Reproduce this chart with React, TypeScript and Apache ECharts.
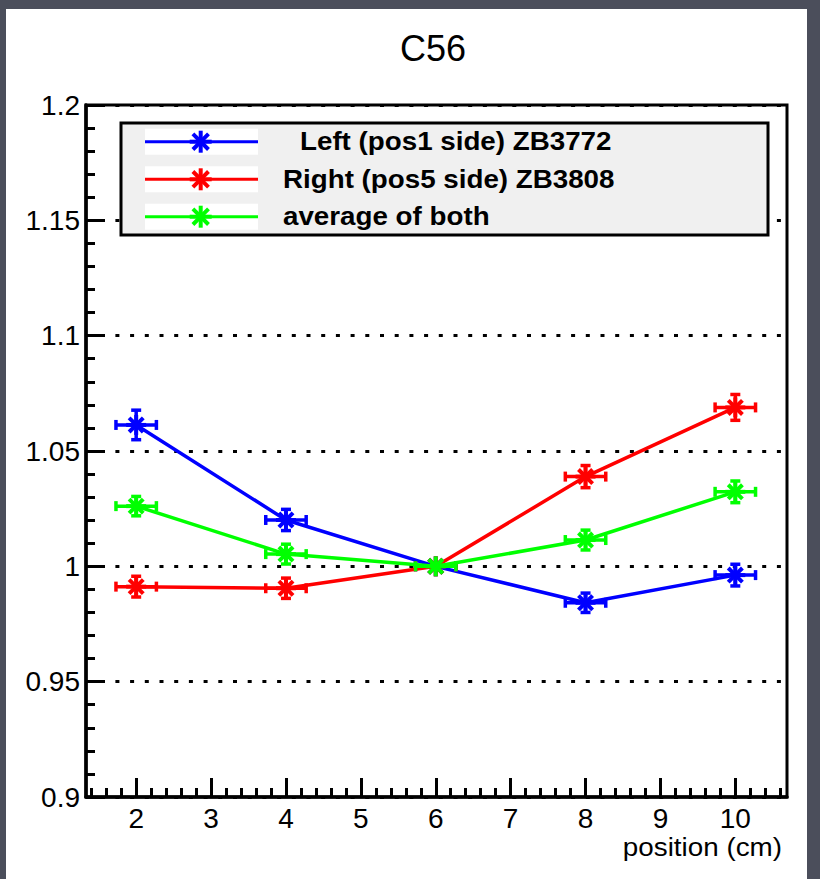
import React, { useEffect, useRef } from "react";
import * as echarts from "echarts";

// ---- data ----
const positions = [2, 4, 6, 8, 10];
const xErrors = [0.27, 0.27, 0.27, 0.27, 0.27];

const leftValues = [1.0613, 1.0201, 1.0, 0.9842, 0.9962];
const leftErrors = [0.0064, 0.0046, 0, 0.0042, 0.0047];

const rightValues = [0.9912, 0.9905, 1.0, 1.0389, 1.0689];
const rightErrors = [0.0045, 0.0044, 0, 0.0048, 0.0056];

const avgValues = [1.0261, 1.0053, 1.0, 1.0114, 1.0323];
const avgErrors = [0.0042, 0.0043, 0, 0.0043, 0.0047];

const xTickValues = [2, 3, 4, 5, 6, 7, 8, 9, 10];
const seriesNames = [
  "Left (pos1 side) ZB3772",
  "Right (pos5 side) ZB3808",
  "average of both",
];
const seriesColors = ["#0000ff", "#ff0000", "#00ff00"];
const xAxisTitle = "position (cm)";
const chartTitle = "C56";

const X_MIN = 1.33;
const X_MAX = 10.69;

// minor ticks every 0.2 between majors
const xMinorTicks: number[] = [];
for (let k = 7; k <= 53; k++) {
  const v = Math.round(k * 0.2 * 100) / 100;
  if (Math.abs(v - Math.round(v)) > 1e-6) xMinorTicks.push(v);
}

const FONT = "Liberation Sans, Arial, Helvetica, sans-serif";
const MARK_W = 4;

function starLines(cx: number, cy: number, color: string, R = 10, z?: number) {
  const d = R * 0.7071;
  const st = { stroke: color, lineWidth: MARK_W };
  const extra: any = z !== undefined ? { z } : {};
  return [
    { type: "line", ...extra, shape: { x1: cx - R, y1: cy, x2: cx + R, y2: cy }, style: st },
    { type: "line", ...extra, shape: { x1: cx, y1: cy - R, x2: cx, y2: cy + R }, style: st },
    { type: "line", ...extra, shape: { x1: cx - d, y1: cy - d, x2: cx + d, y2: cy + d }, style: st },
    { type: "line", ...extra, shape: { x1: cx - d, y1: cy + d, x2: cx + d, y2: cy - d }, style: st },
  ];
}

function makeRenderItem(color: string) {
  return (params: any, api: any) => {
    const x = api.value(0);
    const y = api.value(1);
    const ex = api.value(2);
    const ey = api.value(3);
    const c = api.coord([x, y]);
    const l = api.coord([x - ex, y]);
    const r = api.coord([x + ex, y]);
    const st = { stroke: color, lineWidth: 3.5 };
    const children: any[] = [
      { type: "line", shape: { x1: l[0], y1: c[1], x2: r[0], y2: c[1] }, style: st },
      { type: "line", shape: { x1: l[0], y1: c[1] - 5, x2: l[0], y2: c[1] + 5 }, style: st },
      { type: "line", shape: { x1: r[0], y1: c[1] - 5, x2: r[0], y2: c[1] + 5 }, style: st },
    ];
    if (ey > 0) {
      const t = api.coord([x, y + ey]);
      const b = api.coord([x, y - ey]);
      children.push(
        { type: "line", shape: { x1: c[0], y1: t[1], x2: c[0], y2: b[1] }, style: st },
        { type: "line", shape: { x1: c[0] - 5, y1: t[1], x2: c[0] + 5, y2: t[1] }, style: st },
        { type: "line", shape: { x1: c[0] - 5, y1: b[1], x2: c[0] + 5, y2: b[1] }, style: st }
      );
    }
    children.push(...starLines(c[0], c[1], color));
    return { type: "group", children };
  };
}

export default function App() {
  const ref = useRef<HTMLDivElement>(null);

  useEffect(() => {
    if (!ref.current) return;
    const chart = echarts.init(ref.current, undefined, { renderer: "svg" });

    const groups = [
      { vals: leftValues, errs: leftErrors },
      { vals: rightValues, errs: rightErrors },
      { vals: avgValues, errs: avgErrors },
    ];

    const series: any[] = [];
    groups.forEach((g, i) => {
      series.push({
        type: "line",
        name: seriesNames[i],
        data: positions.map((x, j) => [x, g.vals[j]]),
        symbol: "none",
        lineStyle: { color: seriesColors[i], width: 3.5 },
        z: 3 + i * 2,
        silent: true,
      });
      series.push({
        type: "custom",
        name: seriesNames[i] + " errors",
        data: positions.map((x, j) => [x, g.vals[j], xErrors[j], g.errs[j]]),
        encode: { x: 0, y: 1 },
        renderItem: makeRenderItem(seriesColors[i]),
        z: 4 + i * 2,
        silent: true,
      });
    });

    // legend drawn as graphic
    const Z = 100;
    const legendRows = [141.7, 179.3, 216.7];
    const legendTextX = [300, 283, 283];
    const legendElements: any[] = [
      {
        type: "rect",
        z: Z,
        shape: { x: 121, y: 123, width: 647, height: 112 },
        style: { fill: "#f0f0f0", stroke: "#000", lineWidth: 3 },
      },
    ];
    legendRows.forEach((cy, i) => {
      legendElements.push(
        {
          type: "rect",
          z: Z,
          shape: { x: 145, y: cy - 13, width: 113, height: 26 },
          style: { fill: "#ffffff" },
        },
        {
          type: "line",
          z: Z,
          shape: { x1: 145, y1: cy, x2: 258, y2: cy },
          style: { stroke: seriesColors[i], lineWidth: 3 },
        },
        ...starLines(200.7, cy, seriesColors[i], 11, Z),
        {
          type: "text",
          z: Z,
          x: legendTextX[i],
          y: cy,
          scaleX: 1.11,
          style: {
            text: seriesNames[i],
            fill: "#000",
            font: `bold 25px ${FONT}`,
            textAlign: "left",
            textVerticalAlign: "middle",
          },
        }
      );
    });

    chart.setOption({
      animation: false,
      backgroundColor: "transparent",
      grid: {
        left: 86,
        right: 33,
        top: 105,
        bottom: 82,
        containLabel: false,
        outerBoundsMode: "none",
        show: true,
        borderColor: "#000",
        borderWidth: 3,
        backgroundColor: "transparent",
      },
      xAxis: [
        {
          type: "value",
          min: X_MIN,
          max: X_MAX,
          position: "bottom",
          axisLine: { show: true, lineStyle: { color: "#000", width: 3.5 } },
          axisTick: {
            show: true,
            inside: true,
            length: 19,
            lineStyle: { color: "#000", width: 3 },
            customValues: xTickValues,
          },
          axisLabel: {
            show: true,
            customValues: xTickValues,
            color: "#000",
            fontFamily: FONT,
            fontSize: 28,
            margin: 7,
          },
          splitLine: { show: false },
        },
        {
          type: "value",
          min: X_MIN,
          max: X_MAX,
          position: "bottom",
          offset: 0,
          axisLine: { show: false },
          axisTick: {
            show: true,
            inside: true,
            length: 9,
            lineStyle: { color: "#000", width: 3 },
            customValues: xMinorTicks,
          },
          axisLabel: { show: false },
          splitLine: { show: false },
        },
      ],
      yAxis: {
        type: "value",
        min: 0.9,
        max: 1.2,
        interval: 0.05,
        axisLine: { show: true, lineStyle: { color: "#000", width: 3.5 } },
        axisTick: {
          show: true,
          inside: true,
          length: 19,
          lineStyle: { color: "#000", width: 3 },
        },
        minorTick: {
          show: true,
          splitNumber: 5,
          length: 9,
          lineStyle: { color: "#000", width: 3 },
        },
        axisLabel: {
          color: "#000",
          fontFamily: FONT,
          fontSize: 28,
          margin: 6,
          formatter: (v: number) => String(parseFloat(v.toFixed(3))),
        },
        splitLine: {
          show: true,
          lineStyle: { color: "#000", width: 3, type: [4, 10.7] },
        },
      },
      graphic: [
        {
          type: "text",
          x: 433,
          y: 48,
          style: {
            text: chartTitle,
            fill: "#000",
            font: `36px ${FONT}`,
            textAlign: "center",
            textVerticalAlign: "middle",
          },
        },
        {
          type: "text",
          x: 782,
          y: 847,
          scaleX: 1.07,
          style: {
            text: xAxisTitle,
            fill: "#000",
            font: `26px ${FONT}`,
            textAlign: "right",
            textVerticalAlign: "middle",
          },
        },
        ...legendElements,
      ],
      series,
    });

    return () => chart.dispose();
  }, []);

  return (
    <div
      style={{
        position: "fixed",
        left: 0,
        top: 0,
        width: 820,
        height: 879,
        background: "#4b4e5b",
        overflow: "hidden",
      }}
    >
      <div
        style={{
          position: "absolute",
          left: 6,
          top: 9,
          width: 801,
          height: 870,
          background: "#ffffff",
        }}
      />
      <div
        ref={ref}
        style={{ position: "absolute", left: 0, top: 0, width: 820, height: 879 }}
      />
    </div>
  );
}
